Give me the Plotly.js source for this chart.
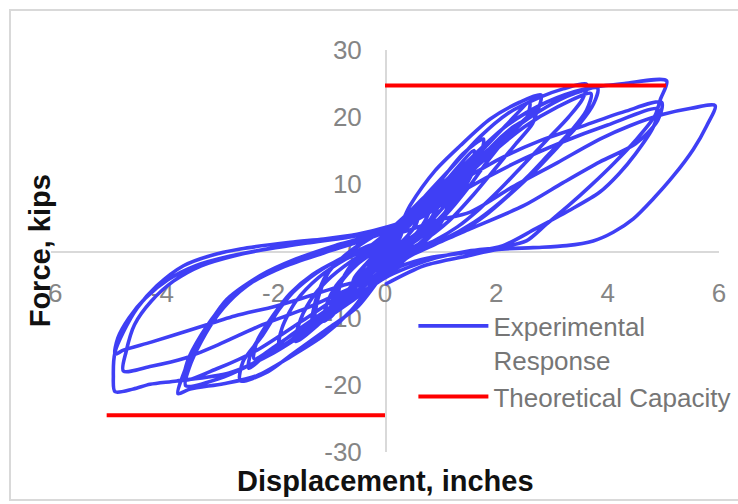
<!DOCTYPE html>
<html>
<head>
<meta charset="utf-8">
<script src="https://cdn.plot.ly/plotly-3.0.1.min.js"></script>
<style>html,body{margin:0;padding:0;background:#fff;}#chart{width:738px;height:504px;}</style>
</head>
<body>
<div id="chart"></div>
<script>
// Hysteresis cycles: [displacement (in), force (kips)]
const cycleS1 = [[0,0],[0.15,1.5],[0.3,3],[0.25,1.8],[0.1,0.4],[-0.1,-1],[-0.3,-2.8],[-0.25,-1.6],[-0.1,-0.3],[0.05,0.8]];
const cycleS2 = [[0.2,2.2],[0.32,3.4],[0.27,2],[0.1,0.2],[-0.12,-1.4],[-0.32,-3.2],[-0.26,-1.8],[-0.08,0],[0.06,1.2]];
const cycle06a = [[0.35,3.6],[0.6,5.5],[0.55,3.8],[0.35,1.8],[0.1,0],[-0.2,-2],[-0.4,-4],[-0.6,-5.8],[-0.55,-4],[-0.35,-2],[-0.1,0.2],[0.15,2]];
const cycle06b = [[0.4,4],[0.62,6],[0.56,4.2],[0.38,2],[0.12,0.2],[-0.2,-2.2],[-0.45,-4.5],[-0.63,-6.5],[-0.57,-4.6],[-0.38,-2.4],[-0.12,-0.2],[0.15,1.8]];
const cycle08a = [[0.3,4.5],[0.6,7],[0.85,8.5],[0.8,6],[0.6,3],[0.3,0.5],[0,-1.5],[-0.4,-4],[-0.85,-7.5],[-0.8,-5],[-0.6,-2],[-0.3,0.5],[0,2.5]];
const cycle08b = [[0.4,5.5],[0.8,8.5],[0.9,6.5],[0.75,3.5],[0.45,0.8],[0.1,-1.2],[-0.3,-3.5],[-0.7,-6.5],[-0.9,-8],[-0.85,-5.5],[-0.6,-2.5],[-0.3,0],[0.1,3]];
const cycle10a = [[0.4,3.5],[0.7,6.5],[1.0,9.5],[0.95,7],[0.8,4.5],[0.5,2],[0.2,0.3],[-0.1,-1.5],[-0.4,-4],[-0.7,-7],[-1.0,-10],[-0.95,-7.5],[-0.8,-4.8],[-0.5,-2],[-0.2,-0.2],[0.1,1.5]];
const cycle10b = [[0.45,4.5],[0.75,7.5],[1.05,10.5],[1.0,7.5],[0.82,4.8],[0.5,2.2],[0.15,0.4],[-0.15,-1.8],[-0.45,-4.6],[-0.75,-7.6],[-1.1,-10.5],[-1.05,-8],[-0.88,-5.2],[-0.55,-2.3],[-0.2,0.2],[0.1,2]];
const cycle12a = [[0.4,5.2],[0.9,9],[1.25,11.5],[1.2,8.5],[1.0,4.5],[0.6,1],[0.2,-1.2],[-0.3,-4.5],[-0.8,-8],[-1.25,-10.5],[-1.2,-7],[-1.0,-3],[-0.6,0],[-0.2,2.2],[0.2,4]];
const cycle12b = [[0.6,6.5],[1.0,9.5],[1.3,11],[1.2,7.5],[0.95,3.5],[0.6,0.5],[0.2,-2],[-0.3,-5.5],[-0.9,-9.2],[-1.3,-11],[-1.25,-7.5],[-1.05,-3.5],[-0.7,-0.5],[-0.3,1.8],[0.1,3.5]];
const cycle16a = [[0.5,5.5],[1.0,10.5],[1.4,14.5],[1.77,16.7],[1.7,14],[1.5,10.5],[1.25,7],[0.9,4],[0.5,1.5],[0.1,-0.5],[-0.3,-3],[-0.7,-7],[-1.2,-11],[-1.6,-13.5],[-1.55,-11],[-1.35,-7.5],[-1.05,-4.5],[-0.6,-1.5],[-0.2,0.5],[0.2,2.5]];
const cycle16b = [[0.6,6],[1.1,10.5],[1.6,15],[1.55,12.5],[1.35,9],[1.05,5.5],[0.6,2.2],[0.1,0],[-0.3,-2.5],[-0.8,-7],[-1.4,-11.5],[-1.9,-14.2],[-1.85,-11.5],[-1.6,-7.5],[-1.2,-4],[-0.7,-1.2],[-0.2,0.8],[0.2,2.8]];
const cycle27a = [[0.45,6.8],[0.9,12],[1.35,15.7],[1.89,19.7],[2.42,22.2],[2.8,23.3],[2.72,20.7],[2.3,18.5],[1.9,15.5],[1.5,11.5],[1.1,7],[0.7,3.5],[0.3,0.8],[0,-3],[-0.5,-8.4],[-1.0,-11.4],[-1.7,-15.6],[-2.1,-18],[-2.6,-19.4],[-2.55,-16.5],[-2.2,-12.6],[-1.9,-8.7],[-1.6,-5.7],[-1.2,-3],[-0.7,-0.8],[-0.2,1],[0.3,3.5]];
const cycle27b = [[0.8,7.5],[1.3,11.5],[1.8,15.5],[2.2,19],[2.6,22.2],[2.55,20],[2.2,17],[1.85,13.5],[1.5,9.5],[1.1,5.5],[0.6,1.8],[0.1,-0.8],[-0.3,-3.5],[-0.8,-7.5],[-1.3,-10.5],[-1.85,-13.5],[-2.35,-16.1],[-2.3,-13.5],[-2.0,-9.5],[-1.7,-6.3],[-1.3,-3.5],[-0.8,-1.2],[-0.3,0.6],[0.2,2.8]];
const cycle27c = [[0.9,7],[1.5,12],[2.1,16.5],[2.72,21],[2.65,19],[2.35,16],[2.0,12.5],[1.6,8.5],[1.15,4.5],[0.6,1],[0,-1.8],[-0.4,-4.5],[-1.0,-8.5],[-1.6,-12],[-2.1,-15.2],[-2.45,-17.5],[-2.4,-15],[-2.1,-11],[-1.75,-7],[-1.35,-4],[-0.9,-1.6],[-0.4,0.4],[0.1,2.2]];
const cycle37a = [[0.7,8],[1.2,12.5],[1.7,17],[2.2,20.5],[2.8,23],[3.2,24.2],[3.62,24.9],[3.55,22.7],[3.3,20],[2.9,16.5],[2.5,13],[2.1,9.5],[1.7,6.3],[1.3,3.6],[0.9,1.6],[0.4,-0.3],[-0.1,-3.5],[-0.6,-8.8],[-1.1,-12.6],[-1.7,-15.8],[-2.3,-18.6],[-2.9,-19.8],[-3.5,-20.6],[-3.72,-21.3],[-3.65,-19],[-3.45,-15],[-3.14,-10.6],[-2.84,-7.2],[-2.25,-3.7],[-1.6,-1.2],[-0.9,0.8],[-0.3,2.2],[0.2,3.8]];
const cycle37b = [[0.8,7],[1.5,12.5],[2.2,17.5],[2.9,21.5],[3.4,23.5],[3.82,24.3],[3.75,22],[3.5,19],[3.1,15.5],[2.7,12],[2.25,8.5],[1.8,5.3],[1.3,2.6],[0.7,0.5],[0.2,-1.5],[-0.2,-4],[-0.8,-8.5],[-1.5,-12.5],[-2.2,-16],[-2.9,-18.8],[-3.58,-20.1],[-3.52,-17.5],[-3.3,-13.5],[-3.0,-9.5],[-2.6,-6],[-2.1,-3.2],[-1.4,-0.9],[-0.7,0.9],[-0.1,2.7]];
const cycle37c = [[0.9,6.5],[1.7,13],[2.5,18.5],[3.1,21.5],[3.7,23.5],[3.62,21],[3.35,18],[2.95,14.5],[2.55,11],[2.1,7.5],[1.6,4.3],[1.0,1.5],[0.4,-0.5],[0,-2],[-0.7,-6],[-1.5,-10.5],[-2.3,-14.8],[-3.0,-17.5],[-3.6,-19.2],[-3.55,-16.5],[-3.3,-12.5],[-2.95,-8.5],[-2.45,-5],[-1.8,-2.3],[-1.1,-0.3],[-0.4,1.6],[0.1,3.2]];
const cycle50a = [[0.8,7.5],[1.5,13.5],[2.2,18.8],[2.9,22.2],[3.6,24.2],[4.3,25],[5.06,25.4],[4.95,22.7],[4.85,20.2],[4.5,16.5],[4.1,13],[3.7,9.8],[3.3,6.8],[2.9,4],[2.54,1.5],[2.1,0.6],[1.5,0],[0.8,-1.3],[0,-4],[-0.6,-7.5],[-1.3,-11.5],[-2.0,-15.2],[-2.8,-18.2],[-3.74,-19.4],[-4.22,-19.9],[-4.52,-20.6],[-4.85,-21],[-4.88,-18.6],[-4.85,-15.1],[-4.7,-12.1],[-4.45,-8.5],[-4.1,-5.2],[-3.62,-2.2],[-3.14,-0.7],[-2.6,0.3],[-1.7,1.3],[-1.1,1.8],[-0.5,2.5],[0,3.5]];
const cycle50b = [[0.5,5],[1.2,9.5],[2.0,13.5],[2.8,16.5],[3.5,18.5],[4.3,20.8],[4.97,22.2],[4.9,19.5],[4.5,16],[3.86,13.3],[3.2,10.2],[2.5,6.8],[1.53,3.3],[0.9,1],[0.4,-1],[0.1,-3.2],[-0.6,-5.5],[-1.4,-8.5],[-2.2,-11],[-3.0,-14],[-3.6,-16],[-4.2,-17.2],[-4.7,-17.9],[-4.65,-15],[-4.5,-11],[-4.2,-7.5],[-3.8,-4.5],[-3.3,-2.2],[-2.7,-0.7],[-2.0,0.5],[-1.3,1.3],[-0.6,2.2],[0,3.2]];
const cycle50c = [[0.6,4.8],[1.4,9],[2.3,13],[3.2,16.3],[4.0,18.8],[4.9,21.2],[4.82,18.5],[4.5,14.5],[4.2,11.5],[3.86,8.8],[3.3,6],[2.7,3.3],[2.12,0.8],[1.5,-0.2],[0.8,-1],[0.3,-2.2],[0,-3.5],[-0.7,-5],[-1.95,-8.2],[-2.7,-9.7],[-3.5,-11.8],[-4.2,-13.6],[-4.7,-14.8],[-4.85,-15.4],[-4.8,-13],[-4.6,-10],[-4.3,-7],[-3.9,-4.3],[-3.4,-2.2],[-2.8,-0.8],[-2.1,0.3],[-1.4,1.2],[-0.7,2],[0,3]];
const cycle60 = [[0.3,2.8],[0.9,4.5],[1.53,5.8],[2.3,9.6],[3.1,13.2],[3.86,16.7],[4.4,18.7],[5.0,20.4],[5.5,21.3],[5.93,21.7],[5.78,18.7],[5.54,15.2],[5.18,11.2],[4.82,7.8],[4.46,4.8],[4.1,2.8],[3.74,1.5],[3.26,0.8],[2.66,0.5],[2.0,0.2],[1.5,-0.7],[0.7,-2.2],[0,-5]];

// Theoretical capacity lines
const capacityX = [0, 5.05, null, -5.0, 0];
const capacityY = [24.7, 24.7, null, -24.5, -24.5];

const xTicks = [-6, -4, -2, 0, 2, 4, 6];
const yTicks = [-30, -20, -10, 0, 10, 20, 30];

const cycles = [cycleS1, cycleS2, cycle06a, cycle06b, cycle08a, cycle08b, cycle10a, cycle10b, cycle12a, cycle12b,
  cycle16a, cycle16b, cycle27a, cycle27b, cycle27c, cycle37a, cycle37b, cycle37c,
  cycle50a, cycle50b, cycle50c, cycle60];
const allPts = [].concat(...cycles);
const dispX = allPts.map(p => p[0]);
const forceY = allPts.map(p => p[1]);

const FONT = 'Liberation Sans, Arial, sans-serif';

const traces = [
  {
    x: dispX, y: forceY, type: 'scatter', mode: 'lines',
    name: 'Experimental<br>Response',
    line: {color: '#3f3ff5', width: 3.6, shape: 'spline', smoothing: 0.8},
    hoverinfo: 'skip'
  },
  {
    x: capacityX, y: capacityY, type: 'scatter', mode: 'lines',
    name: 'Theoretical Capacity',
    line: {color: '#ff0000', width: 4},
    hoverinfo: 'skip'
  }
];

const axisCommon = {
  showgrid: false, zeroline: false, showline: true,
  linecolor: '#d9d9d9', linewidth: 1.5, ticks: '',
  anchor: 'free', position: 0.5, layer: 'below traces',
  tickfont: {family: FONT, size: 26, color: '#858585'},
  ticklabelstandoff: 18
};

const layout = {
  width: 738, height: 504,
  margin: {l: 51, r: 19, t: 50, b: 52, autoexpand: false},
  paper_bgcolor: '#ffffff', plot_bgcolor: '#ffffff',
  xaxis: Object.assign({}, axisCommon, {range: [-6, 6], tickvals: xTicks, ticktext: xTicks.map(String)}),
  yaxis: Object.assign({}, axisCommon, {range: [-30, 30], tickvals: yTicks, ticktext: yTicks.map(String)}),
  showlegend: true,
  legend: {
    x: 0.5425, y: 0.372, xanchor: 'left', yanchor: 'top',
    bgcolor: 'rgba(0,0,0,0)', valign: 'top', itemwidth: 70,
    font: {family: FONT, size: 26, color: '#767676'},
    tracegroupgap: 0
  },
  annotations: [
    {text: 'Displacement, inches', xref: 'paper', yref: 'paper', x: 0.5, y: -0.072,
     xanchor: 'center', yanchor: 'middle', showarrow: false,
     font: {family: FONT, size: 29, color: '#111111', weight: 'bold'}},
    {text: 'Force, kips', xref: 'paper', yref: 'paper', x: -0.016, y: 0.5, textangle: -90,
     xanchor: 'center', yanchor: 'middle', showarrow: false,
     font: {family: FONT, size: 29, color: '#111111', weight: 'bold'}}
  ],
  shapes: [
    {type: 'rect', xref: 'paper', yref: 'paper', x0: -0.0614, x1: 1.2, y0: -0.1194, y1: 1.0995,
     line: {color: '#d9d9d9', width: 2}, fillcolor: 'rgba(0,0,0,0)', layer: 'below'}
  ]
};

Plotly.newPlot('chart', traces, layout, {staticPlot: true, displayModeBar: false});
</script>
</body>
</html>
